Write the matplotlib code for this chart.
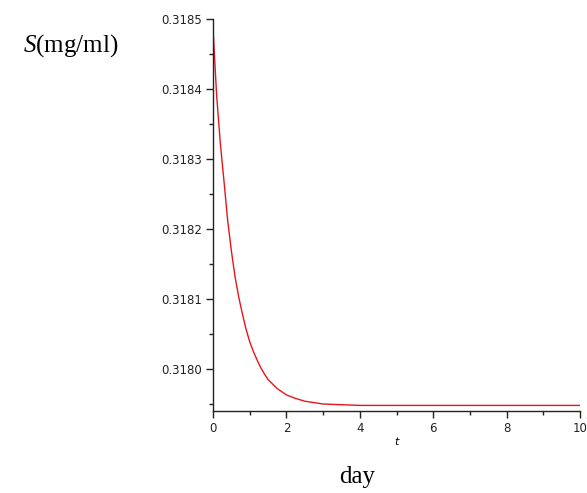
import matplotlib
matplotlib.use("Agg")
import matplotlib.pyplot as plt
from matplotlib.ticker import MultipleLocator, FormatStrFormatter

# Data
t = [0, 0.1, 0.2, 0.3, 0.4, 0.5, 0.6, 0.7, 0.8, 0.9, 1.0, 1.1, 1.2, 1.3, 1.4, 1.5,
     1.75, 2.0, 2.25, 2.5, 2.75, 3.0, 3.5, 4.0, 5.0, 6.0, 7.0, 8.0, 9.0, 10.0]
S = [0.318486, 0.318390, 0.318322, 0.318268, 0.318212, 0.318169, 0.318132, 0.318103,
     0.318079, 0.318057, 0.318039, 0.318025, 0.318013, 0.318002, 0.317993, 0.317985,
     0.317972, 0.317963, 0.317958, 0.317954, 0.317952, 0.317950, 0.317949, 0.317948,
     0.317948, 0.317948, 0.317948, 0.317948, 0.317948, 0.317948]

x_ticks = [0, 2, 4, 6, 8, 10]
y_ticks = [0.3180, 0.3181, 0.3182, 0.3183, 0.3184, 0.3185]

plt.rcParams['font.family'] = ['DejaVu Sans']
plt.rcParams['mathtext.fontset'] = 'custom'
plt.rcParams['mathtext.it'] = 'Liberation Serif:italic'
plt.rcParams['mathtext.rm'] = 'Liberation Serif'

fig = plt.figure(figsize=(5.87, 4.93), dpi=100)
ax = fig.add_axes([213/587, 1 - 411/493, (580 - 213)/587, (411 - 19)/493])

ax.plot(t, S, color='#e8141c', linewidth=1.0)

ax.set_xlim(0, 10)
ax.set_ylim(0.31794, 0.3185)
ax.set_xticks(x_ticks)
ax.set_yticks(y_ticks)
ax.xaxis.set_minor_locator(MultipleLocator(1))
ax.yaxis.set_minor_locator(MultipleLocator(0.00005))
ax.yaxis.set_major_formatter(FormatStrFormatter('%.4f'))
ax.tick_params(axis='both', which='major', length=5, width=1.0, labelsize=8.5, colors='#222222', pad=3)
ax.tick_params(axis='both', which='minor', length=3, width=1.0, colors='#222222')

for side in ['top', 'right']:
    ax.spines[side].set_visible(False)
for side in ['left', 'bottom']:
    ax.spines[side].set_linewidth(1.0)
    ax.spines[side].set_color('#222222')

fig.text(396/587, 1 - 442/493, 't', fontsize=8, style='italic', ha='center', va='center',
         family='DejaVu Sans')
fig.text(357/587, 1 - 477/493, 'day', fontsize=18, ha='center', va='center',
         family='Liberation Serif')
fig.text(71/587, 1 - 46/493, r'$S$(mg/ml)', fontsize=18, ha='center', va='center',
         family='Liberation Serif')

fig.savefig('out.png', dpi=100)
